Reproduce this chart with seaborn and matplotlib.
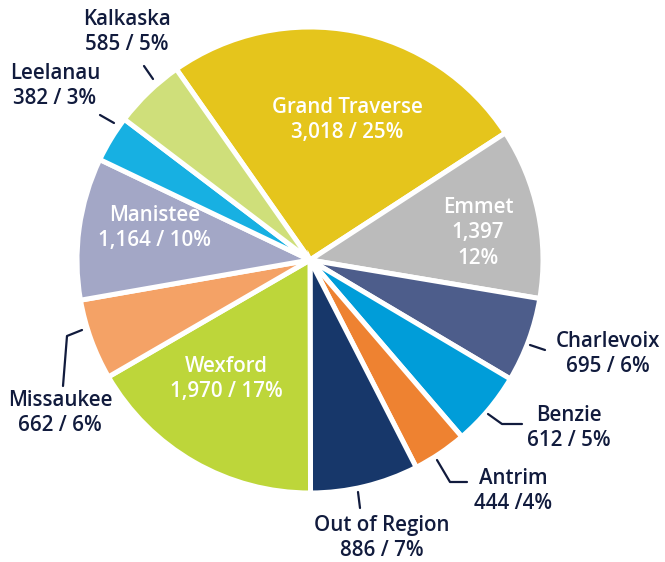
import numpy as np
import seaborn as sns
import matplotlib.pyplot as plt

sns.set_theme(style="white")
plt.rcParams["font.family"] = ["Open Sans", "DejaVu Sans"]

# data (clockwise from Grand Traverse)
counties = ["Grand Traverse", "Emmet", "Charlevoix", "Benzie", "Antrim",
            "Out of Region", "Wexford", "Missaukee", "Manistee", "Leelanau", "Kalkaska"]
counts = [3018, 1397, 695, 612, 444, 886, 1970, 662, 1164, 382, 585]
labels = ["Grand Traverse\n3,018 / 25%", "Emmet\n1,397\n12%", "Charlevoix\n695 / 6%",
          "Benzie\n612 / 5%", "Antrim\n444 /4%", "Out of Region\n886 / 7%",
          "Wexford\n1,970 / 17%", "Missaukee\n662 / 6%", "Manistee\n1,164 / 10%",
          "Leelanau\n382 / 3%", "Kalkaska\n585 / 5%"]
colors = ["#E5C51C", "#BBBBBB", "#4D5D8B", "#009DD9", "#EE8231", "#17376A",
          "#BDD63A", "#F4A266", "#A3A7C6", "#17B0E2", "#CFDF7A"]
inside = ["Grand Traverse", "Emmet", "Wexford", "Manistee"]

# pixel helpers (pie centre ~ (310, 260), radius ~233 px)
CX, CY, R = 310, 260, 233
W, H = 665, 562


def d(px, py):
    return (px - CX) / R, (CY - py) / R


fig = plt.figure(figsize=(W / 100, H / 100), dpi=100)
ax = fig.add_axes([0, 0, 1, 1])
wedges, _ = ax.pie(counts, colors=colors, startangle=125, counterclock=False,
                   radius=1, wedgeprops=dict(edgecolor="white", linewidth=3.6))
ax.set_xlim(-CX / R, (W - CX) / R)
ax.set_ylim(-(H - CY) / R, CY / R)
ax.set_aspect("equal")
ax.axis("off")

# label positions in pixels
label_pos = {
    "Grand Traverse": (347, 120), "Emmet": (478, 233), "Wexford": (226, 379),
    "Manistee": (155, 228), "Kalkaska": (127, 32), "Leelanau": (55, 86),
    "Charlevoix": (608, 354), "Benzie": (569, 428), "Antrim": (513, 491),
    "Out of Region": (382, 538), "Missaukee": (60, 413),
}
leaders = {
    "Kalkaska": [(144, 66), (153, 79)],
    "Leelanau": [(100, 115), (114, 123)],
    "Charlevoix": [(530, 345), (545, 350)],
    "Benzie": [(488, 414), (502, 424), (522, 424)],
    "Antrim": [(437, 460), (450, 482), (467, 482)],
    "Out of Region": [(358, 492), (360, 508)],
    "Missaukee": [(82, 330), (67, 336), (63, 386)],
}

navy = "#111B3D"
for name, lab in zip(counties, labels):
    x, y = d(*label_pos[name])
    col = "white" if name in inside else navy
    ax.text(x, y, lab, ha="center", va="center", color=col, fontsize=14.8,
            fontweight="semibold", linespacing=1.3)
    if name in leaders:
        pts = np.array([d(*p) for p in leaders[name]])
        ax.plot(pts[:, 0], pts[:, 1], color=navy, lw=1.6)

plt.savefig("out.png", dpi=100)
